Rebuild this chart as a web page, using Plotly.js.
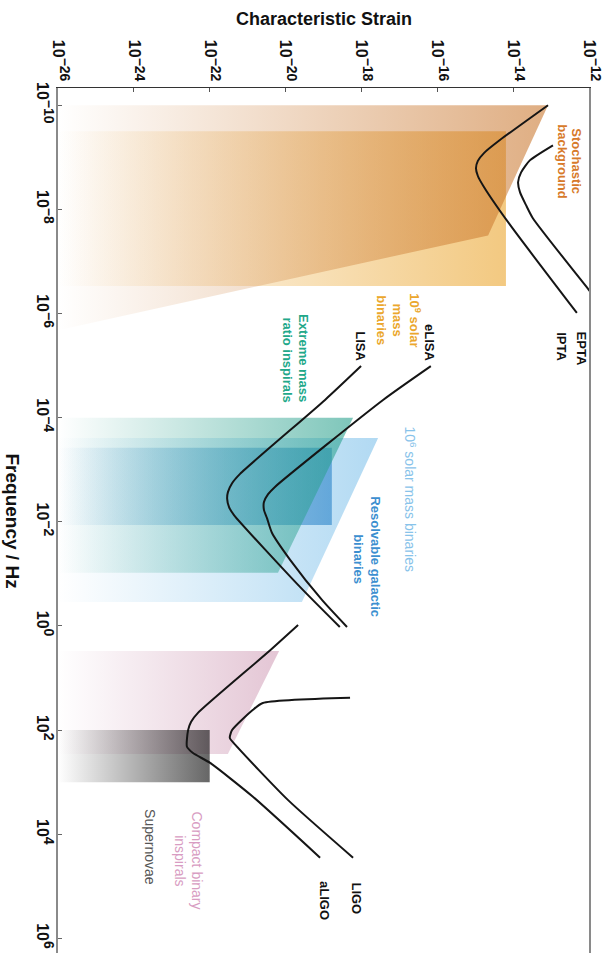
<!DOCTYPE html>
<html><head><meta charset="utf-8">
<script src="https://cdn.plot.ly/plotly-3.0.1.min.js"></script>
<style>html,body{margin:0;padding:0;background:#fff}#chart{width:608px;height:953px}</style>
</head><body><div id="chart"></div>
<script>
// ---- tick exponents (log10) ----
const strainTickExp = [-26, -24, -22, -20, -18, -16, -14, -12];
const freqTickExp = [-10, -8, -6, -4, -2, 0, 2, 4, 6];

// ---- source regions: log10 frequency / log10 characteristic strain ----
const smbh9LogF = [-9.50, -9.50, -6.53, -6.53];
const smbh9LogH = [-26, -14.19, -14.19, -26];
const stochasticLogF = [-10, -10, -7.50, -5.68];
const stochasticLogH = [-26, -13.08, -14.66, -26];
const smbh6LogF = [-3.61, -3.61, -0.46, -0.46];
const smbh6LogH = [-26, -17.56, -19.57, -26];
const galacticLogF = [-3.42, -3.42, -1.94, -1.94];
const galacticLogH = [-26, -18.78, -18.78, -26];
const emriLogF = [-4.0, -4.0, -1.02, -1.02];
const emriLogH = [-26, -18.22, -20.20, -26];
const compactLogF = [0.48, 0.48, 2.46, 2.46];
const compactLogH = [-26, -20.17, -21.52, -26];
const snLogF = [2.0, 2.0, 3.0, 3.0];
const snLogH = [-26, -22.0, -22.0, -26];

// ---- detector sensitivity curves ----
const iptaLogF = [-10, -9.33, -9.08, -8.93, -8.79, -8.64, -8.43, -7.70, -6.01];
const iptaLogH = [-13.08, -14.35, -14.77, -14.93, -14.98, -14.93, -14.77, -14.08, -12.32];
const eptaLogF = [-9.23, -8.94, -8.71, -8.52, -8.33, -8.08, -7.83, -6.45, -6.18];
const eptaLogH = [-12.95, -13.56, -13.79, -13.87, -13.82, -13.66, -13.48, -12.0, -11.71];
const lisaLogF = [-4.99, -4.34, -2.92, -2.74, -2.57, -2.44, -2.28, -2.13, -0.75, 0.02];
const lisaLogH = [-18.01, -18.96, -21.20, -21.41, -21.52, -21.54, -21.49, -21.36, -19.62, -18.57];
const elisaLogF = [-4.99, -4.34, -2.67, -2.53, -2.38, -2.23, -2.07, -1.79, -1.27, -0.50, 0.02];
const elisaLogH = [-16.17, -17.43, -20.28, -20.46, -20.57, -20.57, -20.49, -20.36, -19.88, -19.04, -18.38];
const aligoLogF = [-0.02, 0.52, 1.67, 1.84, 2.0, 2.32, 2.44, 2.63, 3.28, 4.45];
const aligoLogH = [-19.67, -20.49, -22.31, -22.49, -22.57, -22.60, -22.44, -21.99, -20.86, -19.09];
const ligoLogF = [1.38, 1.48, 1.61, 2.0, 2.15, 2.28, 3.34, 4.45];
const ligoLogH = [-18.30, -20.60, -20.86, -21.41, -21.47, -21.33, -19.94, -18.22];

// ---- labels: [text, log10 strain, log10 freq, colour, bold, size] ----
const labels = [
  ['Stochastic', -12.34, -8.92, '#D77A2A', true, 13],
  ['background', -12.71, -8.92, '#D77A2A', true, 13],
  ['10<sup>9</sup> solar', -16.59, -5.87, '#EBA72C', true, 13],
  ['mass', -17.04, -5.87, '#EBA72C', true, 13],
  ['binaries', -17.46, -5.87, '#EBA72C', true, 13],
  ['eLISA', -16.19, -5.45, '#111', true, 13],
  ['LISA', -18.01, -5.37, '#111', true, 13],
  ['EPTA', -12.19, -5.33, '#111', true, 13],
  ['IPTA', -12.71, -5.37, '#111', true, 13],
  ['Extreme mass', -19.51, -5.14, '#22A889', true, 13],
  ['ratio inspirals', -19.94, -5.10, '#22A889', true, 13],
  ['10<sup>6</sup> solar mass binaries', -16.72, -2.43, '#88C3EA', false, 14],
  ['Resolvable galactic', -17.62, -1.32, '#3C8FD0', true, 13],
  ['binaries', -18.06, -1.28, '#3C8FD0', true, 13],
  ['Compact binary', -22.34, 4.50, '#D89CC2', false, 14],
  ['inspirals', -22.78, 4.50, '#D89CC2', false, 14],
  ['Supernovae', -23.57, 4.25, '#555555', false, 14],
  ['LIGO', -18.12, 5.23, '#111', true, 13],
  ['aLIGO', -18.99, 5.28, '#111', true, 13]
];

const p10 = a => a.map(v => Math.pow(10, v));
const FONT = 'Liberation Sans, Arial, Helvetica, sans-serif';
const expLabel = e => '<b>10<sup><span style="font-size:14px">' + (e < 0 ? '\u2212' : '') + Math.abs(e) + '</span></sup></b>';

function region(lf, lh, rgb, alpha) {
  return {
    type: 'scatter', mode: 'none', fill: 'toself',
    x: p10(lh), y: p10(lf), hoverinfo: 'skip', showlegend: false,
    fillgradient: {type: 'horizontal',
      colorscale: [[0, 'rgba(' + rgb + ',0)'], [1, 'rgba(' + rgb + ',' + alpha + ')']]}
  };
}
function curve(lf, lh) {
  return {
    type: 'scatter', mode: 'lines', x: p10(lh), y: p10(lf),
    line: {color: '#151515', width: 2, shape: 'spline', smoothing: 0.6},
    hoverinfo: 'skip', showlegend: false
  };
}

const traces = [
  region(smbh9LogF, smbh9LogH, '238,180,80', 0.72),
  region(stochasticLogF, stochasticLogH, '200,115,40', 0.58),
  region(smbh6LogF, smbh6LogH, '100,180,230', 0.5),
  region(galacticLogF, galacticLogH, '40,130,200', 0.6),
  region(emriLogF, emriLogH, '40,160,140', 0.6),
  region(compactLogF, compactLogH, '200,140,170', 0.5),
  region(snLogF, snLogH, '20,20,20', 0.65),
  curve(iptaLogF, iptaLogH),
  curve(eptaLogF, eptaLogH),
  curve(lisaLogF, lisaLogH),
  curve(elisaLogF, elisaLogH),
  curve(aligoLogF, aligoLogH),
  curve(ligoLogF, ligoLogH)
];

const annotations = labels.map(l => ({
  x: l[1], y: l[2], xref: 'x', yref: 'y', showarrow: false,
  text: l[4] ? '<b>' + l[0] + '</b>' : l[0], textangle: 90,
  xanchor: 'center', yanchor: 'middle',
  font: {family: FONT, size: l[5], color: l[3]}
}));
annotations.push({
  xref: 'paper', yref: 'paper', x: 0.5, y: 1, yshift: 69, showarrow: false,
  xanchor: 'center', yanchor: 'middle', text: '<b>Characteristic Strain</b>',
  font: {family: FONT, size: 18, color: '#111'}
});
annotations.push({
  xref: 'paper', yref: 'paper', x: 0, y: 0.5, xshift: -46, showarrow: false,
  xanchor: 'center', yanchor: 'middle', text: '<b>Frequency / Hz</b>', textangle: 90,
  font: {family: FONT, size: 19, color: '#111'}
});

const layout = {
  width: 608, height: 953,
  margin: {l: 58, r: 19, t: 88, b: 0, pad: 0},
  paper_bgcolor: '#fff', plot_bgcolor: '#fff',
  showlegend: false,
  font: {family: FONT, color: '#111'},
  xaxis: {
    type: 'log', side: 'top', range: [-26, -12],
    tickmode: 'array', tickvals: p10(strainTickExp),
    ticktext: strainTickExp.map(expLabel),
    tickangle: 90, tickfont: {family: FONT, size: 16, color: '#111'},
    ticks: 'inside', ticklen: 4, tickcolor: '#555',
    showline: true, linecolor: '#333', linewidth: 1, mirror: false,
    showgrid: false, zeroline: false, fixedrange: true
  },
  yaxis: {
    type: 'log', range: [6.28, -10.33],
    tickmode: 'array', tickvals: p10(freqTickExp),
    ticktext: freqTickExp.map(expLabel),
    tickangle: 90, tickfont: {family: FONT, size: 16, color: '#111'},
    ticks: 'inside', ticklen: 4, tickcolor: '#666',
    showline: true, linecolor: '#8a8a8a', linewidth: 2, mirror: true,
    showgrid: false, zeroline: false, fixedrange: true
  },
  annotations: annotations
};

Plotly.newPlot('chart', traces, layout, {displayModeBar: false, staticPlot: true});
</script></body></html>
